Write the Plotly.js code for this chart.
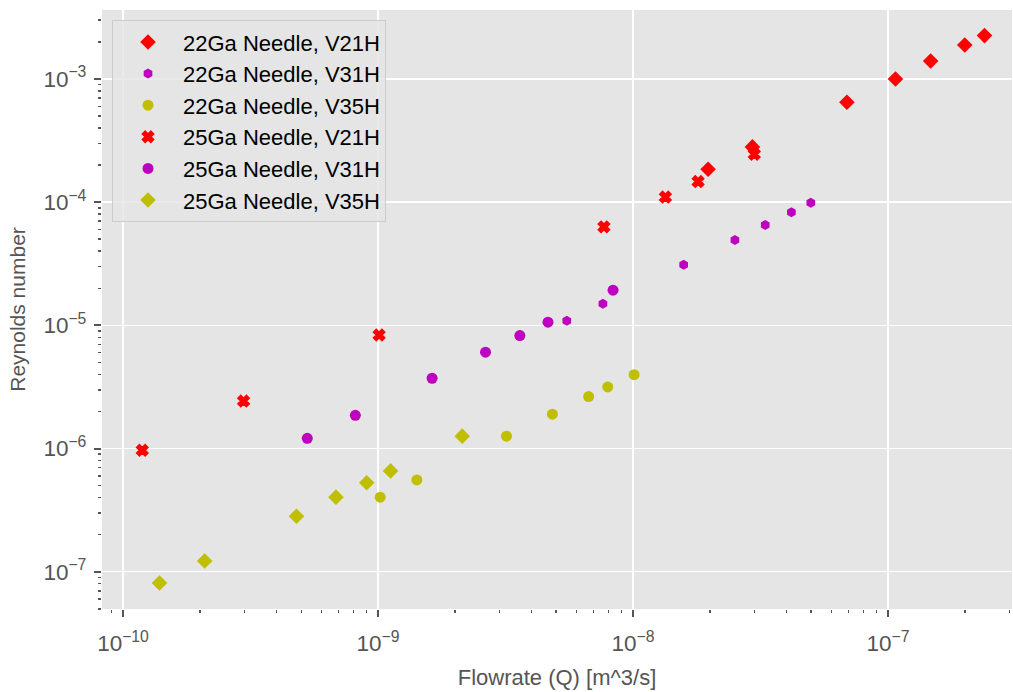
<!DOCTYPE html>
<html>
<head>
<meta charset="utf-8">
<script src="https://cdn.plot.ly/plotly-3.0.1.min.js"></script>
<style>html,body{margin:0;padding:0;background:#fff;}#chart{width:1013px;height:692px;}</style>
</head>
<body>
<div id="chart"></div>
<script>
// 22Ga Needle, V21H
const q22_v21 = [1.97e-8, 2.94e-8, 6.9e-8, 1.07e-7, 1.47e-7, 2.0e-7, 2.39e-7];
const re22_v21 = [1.85e-4, 2.81e-4, 6.47e-4, 1.0e-3, 1.40e-3, 1.89e-3, 2.25e-3];
// 22Ga Needle, V31H
const q22_v31 = [5.5e-9, 7.62e-9, 1.58e-8, 2.51e-8, 3.30e-8, 4.18e-8, 4.98e-8];
const re22_v31 = [1.09e-5, 1.50e-5, 3.11e-5, 4.93e-5, 6.53e-5, 8.28e-5, 9.9e-5];
// 22Ga Needle, V35H
const q22_v35 = [1.02e-9, 1.42e-9, 3.19e-9, 4.83e-9, 6.7e-9, 7.96e-9, 1.01e-8];
const re22_v35 = [4.03e-7, 5.56e-7, 1.26e-6, 1.90e-6, 2.64e-6, 3.16e-6, 3.98e-6];
// 25Ga Needle, V21H
const q25_v21 = [1.19e-10, 2.97e-10, 1.01e-9, 7.69e-9, 1.34e-8, 1.80e-8, 2.99e-8];
const re25_v21 = [9.68e-7, 2.43e-6, 8.35e-6, 6.30e-5, 1.10e-4, 1.47e-4, 2.45e-4];
// 25Ga Needle, V31H
const q25_v31 = [5.28e-10, 8.15e-10, 1.63e-9, 2.64e-9, 3.6e-9, 4.64e-9, 8.35e-9];
const re25_v31 = [1.21e-6, 1.86e-6, 3.72e-6, 6.05e-6, 8.26e-6, 1.06e-5, 1.93e-5];
// 25Ga Needle, V35H
const q25_v35 = [1.39e-10, 2.09e-10, 4.79e-10, 6.84e-10, 9.03e-10, 1.12e-9, 2.14e-9];
const re25_v35 = [8.1e-8, 1.22e-7, 2.82e-7, 4.03e-7, 5.28e-7, 6.58e-7, 1.26e-6];

const seriesNames = ['22Ga Needle, V21H','22Ga Needle, V31H','22Ga Needle, V35H',
                     '25Ga Needle, V21H','25Ga Needle, V31H','25Ga Needle, V35H'];

const RED = '#ff0000', MAG = '#bf00bf', YEL = '#bfbf00';
const mk = (x, y, name, color, symbol, size, lw) => ({
  x: x, y: y, name: name, type: 'scatter', mode: 'markers',
  marker: {color: color, symbol: symbol, size: size, line: {width: lw || 0, color: color}}
});

const data = [
  mk(q22_v21, re22_v21, seriesNames[0], RED, 'diamond', 12),
  mk(q22_v31, re22_v31, seriesNames[1], MAG, 'hexagon', 10),
  mk(q22_v35, re22_v35, seriesNames[2], YEL, 'circle', 11),
  mk(q25_v21, re25_v21, seriesNames[3], RED, 'x', 10, 1.5),
  mk(q25_v31, re25_v31, seriesNames[4], MAG, 'circle', 11),
  mk(q25_v35, re25_v35, seriesNames[5], YEL, 'diamond', 12)
];

const FONT = 'Liberation Sans, Arial, sans-serif';
const axisCommon = {
  type: 'log', dtick: 1, exponentformat: 'power', showexponent: 'all',
  gridcolor: '#ffffff', gridwidth: 1.5, zeroline: false, showline: false,
  ticks: 'outside', ticklen: 7, tickwidth: 2, tickcolor: '#555555',
  tickfont: {family: FONT, size: 18, color: '#555555'},
  minor: {dtick: 'D1', ticks: 'outside', ticklen: 3, tickwidth: 1.5, tickcolor: '#555555', showgrid: false}
};

const layout = {
  width: 1013, height: 692,
  margin: {l: 102, r: 1, t: 10, b: 83},
  paper_bgcolor: '#ffffff', plot_bgcolor: '#e5e5e5',
  font: {family: FONT, color: '#555555'},
  xaxis: Object.assign({}, axisCommon, {
    range: [-10.0824, -6.5137],
    ticklabelstandoff: 8,
    title: {text: 'Flowrate (Q) [m^3/s]', font: {size: 22, color: '#555555'}, standoff: 14}
  }),
  yaxis: Object.assign({}, axisCommon, {
    range: [-7.3028, -2.440],
    ticklabelstandoff: 4,
    title: {text: 'Reynolds number', font: {size: 21, color: '#555555'}, standoff: 12}
  }),
  showlegend: true,
  legend: {
    x: 0.011, y: 0.983, xanchor: 'left', yanchor: 'top',
    bgcolor: 'rgba(229,229,229,0.8)', bordercolor: '#cccccc', borderwidth: 1,
    font: {family: FONT, size: 22, color: '#000000'},
    itemwidth: 60
  }
};

Plotly.newPlot('chart', data, layout, {displayModeBar: false, staticPlot: true});
</script>
</body>
</html>
